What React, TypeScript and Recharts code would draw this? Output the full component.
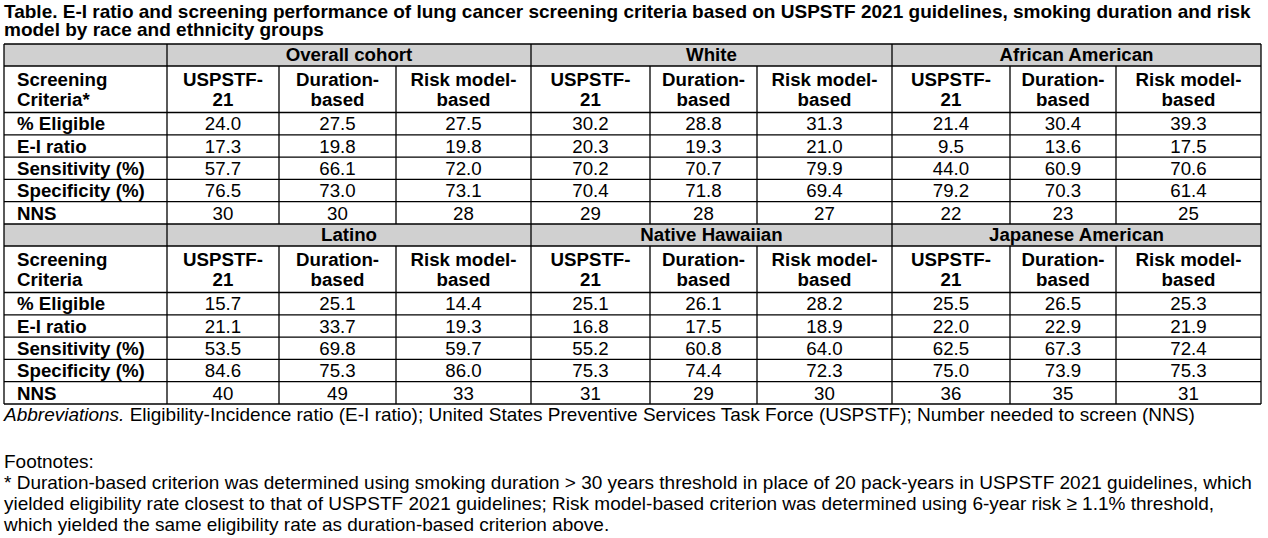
import React from 'react';
import { ScatterChart, Scatter, XAxis, YAxis, ReferenceLine, ReferenceArea } from 'recharts';

// ---------- data ----------
const titleLines = [
  'Table. E-I ratio and screening performance of lung cancer screening criteria based on USPSTF 2021 guidelines, smoking duration and risk',
  'model by race and ethnicity groups',
];
const groupsTop = ['Overall cohort', 'White', 'African American'];
const groupsBottom = ['Latino', 'Native Hawaiian', 'Japanese American'];
const criteriaHeaders = [['USPSTF-', '21'], ['Duration-', 'based'], ['Risk model-', 'based']];
const firstHeaderTop = ['Screening', 'Criteria*'];
const firstHeaderBottom = ['Screening', 'Criteria'];
const metricLabels = ['% Eligible', 'E-I ratio', 'Sensitivity (%)', 'Specificity (%)', 'NNS'];

// each row: [USPSTF-21, Duration-based, Risk model-based]
const overallCohort = [[24.0, 27.5, 27.5], [17.3, 19.8, 19.8], [57.7, 66.1, 72.0], [76.5, 73.0, 73.1], [30, 30, 28]];
const white = [[30.2, 28.8, 31.3], [20.3, 19.3, 21.0], [70.2, 70.7, 79.9], [70.4, 71.8, 69.4], [29, 28, 27]];
const africanAmerican = [[21.4, 30.4, 39.3], [9.5, 13.6, 17.5], [44.0, 60.9, 70.6], [79.2, 70.3, 61.4], [22, 23, 25]];
const latino = [[15.7, 25.1, 14.4], [21.1, 33.7, 19.3], [53.5, 69.8, 59.7], [84.6, 75.3, 86.0], [40, 49, 33]];
const nativeHawaiian = [[25.1, 26.1, 28.2], [16.8, 17.5, 18.9], [55.2, 60.8, 64.0], [75.3, 74.4, 72.3], [31, 29, 30]];
const japaneseAmerican = [[25.5, 26.5, 25.3], [22.0, 22.9, 21.9], [62.5, 67.3, 72.4], [75.0, 73.9, 75.3], [36, 35, 31]];

const abbreviationsLead = 'Abbreviations.';
const abbreviationsText = ' Eligibility-Incidence ratio (E-I ratio); United States Preventive Services Task Force (USPSTF); Number needed to screen (NNS)';
const footnoteTitle = 'Footnotes:';
const footnoteLines = [
  '* Duration-based criterion was determined using smoking duration > 30 years threshold in place of 20 pack-years in USPSTF 2021 guidelines, which',
  'yielded eligibility rate closest to that of USPSTF 2021 guidelines; Risk model-based criterion was determined using 6-year risk \u2265 1.1% threshold,',
  'which yielded the same eligibility rate as duration-based criterion above.',
];

// ---------- layout (style) ----------
const FONT = '"Liberation Sans", Arial, Helvetica, sans-serif';
const FS = 18.7;
const NOTE_FS = 19;
const colWidths = [163, 112, 117, 135, 119, 107, 135, 118, 106, 145];
const blockRowHeights = [22, 46.5, 22.3, 22.3, 22.3, 22.3, 22.3];
const GRAY = '#d0d0d0';
const LINE_W = 1.3;

const colStarts: number[] = [0];
colWidths.forEach((w, i) => colStarts.push(colStarts[i] + w));
const TOTAL_W = colStarts[colStarts.length - 1];
const BLOCK_H = blockRowHeights.reduce((a, b) => a + b, 0);
const rowStartsBlock: number[] = [0];
blockRowHeights.forEach((h, i) => rowStartsBlock.push(rowStartsBlock[i] + h));
const TOTAL_H = BLOCK_H * 2;

const fmt = (v: number, metricIdx: number) => (metricIdx === 4 ? String(Math.round(v)) : v.toFixed(1));

type Cell = { x: number; y: number; lines: string[]; bold: boolean; align: 'start' | 'middle' };

const blocks = [
  { names: groupsTop, firstHeader: firstHeaderTop, values: [overallCohort, white, africanAmerican] },
  { names: groupsBottom, firstHeader: firstHeaderBottom, values: [latino, nativeHawaiian, japaneseAmerican] },
];

const cells: Cell[] = [];
blocks.forEach((b, bi) => {
  const top = bi * BLOCK_H;
  const rowMid = (r: number) => top + rowStartsBlock[r] + blockRowHeights[r] / 2;
  cells.push({ x: 0, y: rowMid(1), lines: b.firstHeader, bold: true, align: 'start' });
  metricLabels.forEach((m, mi) => cells.push({ x: 0, y: rowMid(2 + mi), lines: [m], bold: true, align: 'start' }));
  b.values.forEach((g, gi) => {
    criteriaHeaders.forEach((h, ci) => {
      const c = 1 + gi * 3 + ci;
      const cx = colStarts[c] + colWidths[c] / 2;
      cells.push({ x: cx, y: rowMid(1), lines: h, bold: true, align: 'middle' });
      g.forEach((row, mi) => cells.push({ x: cx, y: rowMid(2 + mi), lines: [fmt(row[ci], mi)], bold: false, align: 'middle' }));
    });
  });
});

const CellText = (props: any) => {
  const { cx, cy, payload } = props;
  if (cx == null || cy == null) return null;
  const p: Cell = payload;
  const x = p.align === 'start' ? cx + 13 : cx;
  const lh = 20;
  return (
    <text textAnchor={p.align} fontFamily={FONT} fontSize={FS} fontWeight={p.bold ? 700 : 400} fill="#000">
      {p.lines.map((l, i) => (
        <tspan key={i} x={x} y={cy + 6.7 + (i - (p.lines.length - 1) / 2) * lh}>
          {l}
        </tspan>
      ))}
    </text>
  );
};

const groupLabel = (name: string) => (props: any) => {
  const vb = props.viewBox || {};
  return (
    <text
      x={vb.x + vb.width / 2}
      y={vb.y + vb.height / 2 + 6.2}
      textAnchor="middle"
      fontFamily={FONT}
      fontSize={FS}
      fontWeight={700}
      fill="#000"
    >
      {name}
    </text>
  );
};

const noteStyle: React.CSSProperties = {
  position: 'absolute',
  left: 4,
  fontSize: NOTE_FS,
  lineHeight: '19px',
  whiteSpace: 'nowrap',
};

export default function App() {
  const hLines: number[] = [];
  [0, 1].forEach((bi) => rowStartsBlock.forEach((r) => hLines.push(bi * BLOCK_H + r)));
  const uniqH = Array.from(new Set(hLines));
  const groupEdges = [0, colStarts[1], colStarts[4], colStarts[7], colStarts[10]];
  const innerEdges = [2, 3, 5, 6, 8, 9].map((i) => colStarts[i]);

  return (
    <div style={{ position: 'absolute', left: 0, top: 0, width: 1268, height: 538, background: '#fff', fontFamily: FONT, color: '#000', overflow: 'hidden' }}>
      {titleLines.map((t, i) => (
        <div key={i} style={{ position: 'absolute', left: 4, top: 3.4 + i * 18, fontSize: 19, lineHeight: '17px', fontWeight: 700, whiteSpace: 'nowrap' }}>
          {t}
        </div>
      ))}
      <ScatterChart width={1268} height={538} margin={{ top: 44, right: 7, bottom: 134, left: 4 }}>
        <XAxis type="number" dataKey="x" domain={[0, TOTAL_W]} hide allowDataOverflow />
        <YAxis type="number" dataKey="y" domain={[0, TOTAL_H]} reversed hide allowDataOverflow />
        {blocks.map((b, bi) => (
          <ReferenceArea
            key={'fa' + bi}
            x1={0}
            x2={colStarts[1]}
            y1={bi * BLOCK_H}
            y2={bi * BLOCK_H + blockRowHeights[0]}
            fill={GRAY}
            fillOpacity={1}
            stroke="none"
            ifOverflow="visible"
          />
        ))}
        {blocks.map((b, bi) =>
          b.names.map((n, gi) => (
            <ReferenceArea
              key={'g' + bi + gi}
              x1={colStarts[1 + gi * 3]}
              x2={colStarts[4 + gi * 3]}
              y1={bi * BLOCK_H}
              y2={bi * BLOCK_H + blockRowHeights[0]}
              fill={GRAY}
              fillOpacity={1}
              stroke="none"
              ifOverflow="visible"
              label={groupLabel(n)}
            />
          ))
        )}
        {uniqH.map((y, i) => (
          <ReferenceLine
            key={'h' + i}
            segment={[{ x: 0, y }, { x: TOTAL_W, y }]}
            stroke="#000"
            strokeWidth={LINE_W}
            ifOverflow="visible"
          />
        ))}
        {[0, 1].map((bi) =>
          groupEdges.map((x, i) => (
            <ReferenceLine
              key={'gv' + bi + i}
              segment={[{ x, y: bi * BLOCK_H }, { x, y: (bi + 1) * BLOCK_H }]}
              stroke="#000"
              strokeWidth={LINE_W}
              ifOverflow="visible"
            />
          ))
        )}
        {[0, 1].map((bi) =>
          innerEdges.map((x, i) => (
            <ReferenceLine
              key={'iv' + bi + i}
              segment={[{ x, y: bi * BLOCK_H + blockRowHeights[0] }, { x, y: (bi + 1) * BLOCK_H }]}
              stroke="#000"
              strokeWidth={LINE_W}
              ifOverflow="visible"
            />
          ))
        )}
        <Scatter data={cells} dataKey="y" isAnimationActive={false} shape={CellText} />
      </ScatterChart>
      <div style={{ ...noteStyle, top: 405 }}>
        <i>{abbreviationsLead}</i>
        {abbreviationsText}
      </div>
      <div style={{ ...noteStyle, top: 451.5 }}>{footnoteTitle}</div>
      {footnoteLines.map((t, i) => (
        <div key={i} style={{ ...noteStyle, top: 473 + i * 21 }}>
          {t}
        </div>
      ))}
    </div>
  );
}
